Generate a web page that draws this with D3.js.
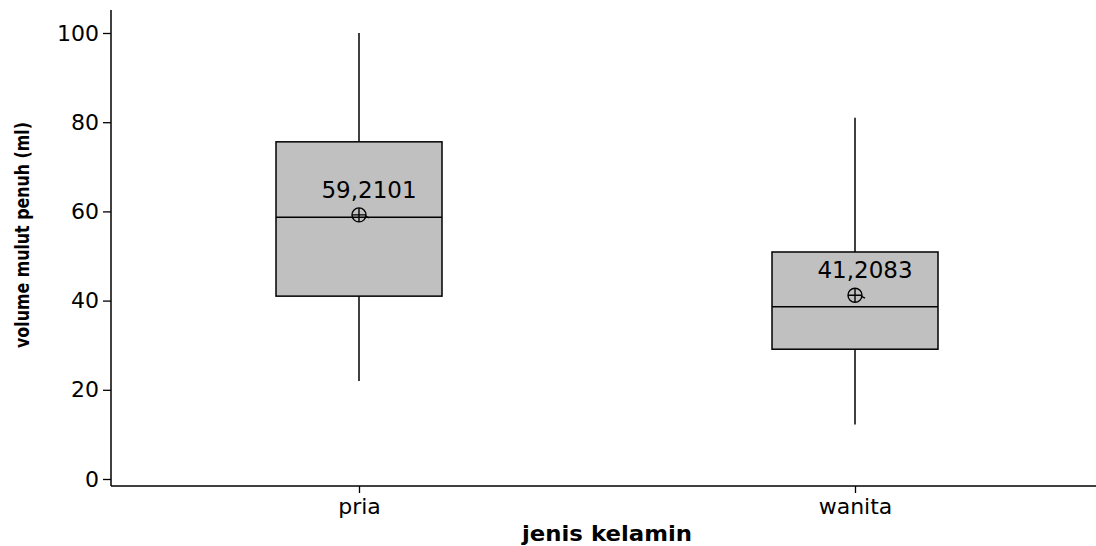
<!DOCTYPE html>
<html>
<head>
<meta charset="utf-8">
<script src="https://cdn.jsdelivr.net/npm/d3@7"></script>
<style>
  html, body { margin: 0; padding: 0; background: #fff; }
  svg { display: block; font-family: "DejaVu Sans", Verdana, sans-serif; }
</style>
</head>
<body>
<svg id="chart" width="1096" height="546"></svg>
<script>
// Groups and their box-plot summaries (volume mulut penuh, ml)
const categories = ["pria", "wanita"];
const whiskerLow  = [22.0, 12.2];
const q1          = [41.0, 29.1];
const median      = [58.7, 38.6];
const q3          = [75.6, 50.9];
const whiskerHigh = [100.0, 81.0];
const means       = [59.2101, 41.2083];
const meanLabels  = ["59,2101", "41,2083"];
const yTicks      = [0, 20, 40, 60, 80, 100];

const rows = categories.map((c, i) => ({
  cat: c, lo: whiskerLow[i], q1: q1[i], med: median[i], q3: q3[i],
  hi: whiskerHigh[i], mean: means[i], label: meanLabels[i]
}));

const svg = d3.select("#chart");
const axisY = 486;   // x-axis baseline
const left = 111;

const x = d3.scalePoint().domain(categories).range([left, 1103]).padding(0.5);
const y = d3.scaleLinear().domain([0, 100]).range([479, 33]);
const boxW = 166;

// Slightly wide lettering for all plain labels
function wide(sel) {
  sel.attr("font-family", "DejaVu Sans").attr("fill", "#000");
}

// Y axis
const gy = svg.append("g").attr("transform", `translate(${left},0)`)
  .call(d3.axisLeft(y).tickValues(yTicks).tickSize(8).tickPadding(4));
gy.select(".domain").remove();
gy.selectAll(".tick line").attr("stroke", "#000").attr("stroke-width", 1.3);
gy.selectAll(".tick text").attr("font-size", 22).call(wide);
svg.append("line").attr("x1", left).attr("x2", left).attr("y1", 10).attr("y2", axisY)
  .attr("stroke", "#000").attr("stroke-width", 1.5);

// X axis
const gx = svg.append("g").attr("transform", `translate(0,${axisY})`)
  .call(d3.axisBottom(x).tickSize(7).tickPadding(5));
gx.select(".domain").remove();
gx.selectAll(".tick line").attr("stroke", "#000").attr("stroke-width", 1.3);
gx.selectAll(".tick text").attr("font-size", 22).call(wide);
svg.append("line").attr("x1", left).attr("x2", 1096).attr("y1", axisY).attr("y2", axisY)
  .attr("stroke", "#000").attr("stroke-width", 1.5);

// Axis titles
svg.append("text").attr("x", 607).attr("y", 541).attr("text-anchor", "middle")
  .attr("font-size", 22).attr("font-weight", "bold").attr("fill", "#000")
  .attr("textLength", 170).attr("lengthAdjust", "spacingAndGlyphs")
  .text("jenis kelamin");
svg.append("text")
  .attr("transform", "translate(29,235) rotate(-90)")
  .attr("text-anchor", "middle").attr("font-size", 20).attr("font-weight", "bold")
  .attr("fill", "#000").attr("textLength", 226).attr("lengthAdjust", "spacingAndGlyphs")
  .text("volume mulut penuh (ml)");

// Boxes
const g = svg.selectAll("g.box").data(rows).join("g").attr("class", "box");

g.append("line")
  .attr("x1", d => x(d.cat)).attr("x2", d => x(d.cat))
  .attr("y1", d => y(d.hi)).attr("y2", d => y(d.q3))
  .attr("stroke", "#000").attr("stroke-width", 1.5);
g.append("line")
  .attr("x1", d => x(d.cat)).attr("x2", d => x(d.cat))
  .attr("y1", d => y(d.q1)).attr("y2", d => y(d.lo))
  .attr("stroke", "#000").attr("stroke-width", 1.5);

g.append("rect")
  .attr("x", d => x(d.cat) - boxW / 2).attr("width", boxW)
  .attr("y", d => y(d.q3)).attr("height", d => y(d.q1) - y(d.q3))
  .attr("fill", "#c0c0c0").attr("stroke", "#000").attr("stroke-width", 1.5);

g.append("line")
  .attr("x1", d => x(d.cat) - boxW / 2).attr("x2", d => x(d.cat) + boxW / 2)
  .attr("y1", d => y(d.med)).attr("y2", d => y(d.med))
  .attr("stroke", "#000").attr("stroke-width", 1.5);

// Mean symbol: circle with crosshair
const r = 7;
g.append("circle")
  .attr("cx", d => x(d.cat)).attr("cy", d => y(d.mean)).attr("r", r)
  .attr("fill", "none").attr("stroke", "#000").attr("stroke-width", 1.4);
g.append("path")
  .attr("d", d => {
    const cx = x(d.cat), cy = y(d.mean);
    return `M${cx - r},${cy}H${cx + r}M${cx},${cy - r}V${cy + r}` +
           `M${cx + r - 1},${cy + 1}L${cx + r + 3},${cy + 3}`;
  })
  .attr("fill", "none").attr("stroke", "#000").attr("stroke-width", 1.4);

// Mean value labels
g.append("text")
  .attr("x", d => x(d.cat) + 10).attr("y", d => y(d.mean) - 17)
  .attr("text-anchor", "middle").attr("font-size", 23).call(wide)
  .text(d => d.label);
</script>
</body>
</html>
